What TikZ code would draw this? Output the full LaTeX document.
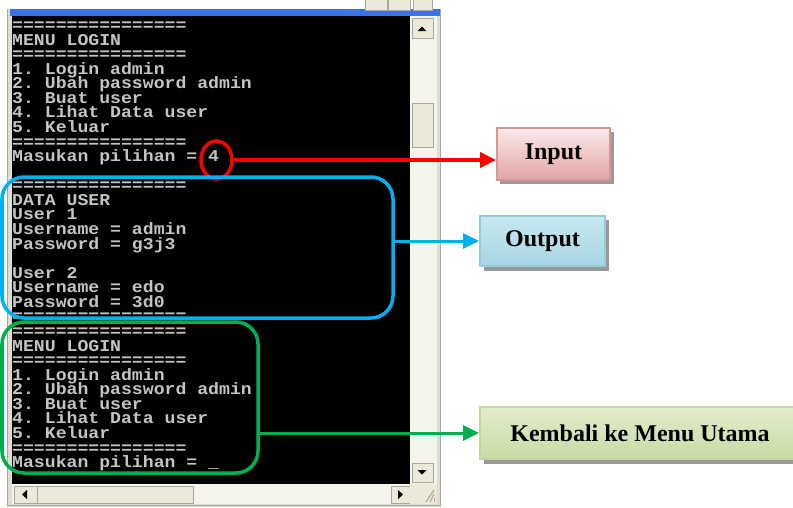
\documentclass[tikz,border=0pt]{standalone}
\usepackage{fontspec}
\setmainfont{Liberation Serif}
\newfontfamily\confont[FakeStretch=1.1]{Liberation Mono}
\usetikzlibrary{shapes.geometric,arrows.meta}
\definecolor{congrey}{HTML}{C4C4C4}
\definecolor{xpbeige}{HTML}{ECE9D8}
\definecolor{xptrack}{HTML}{F4F3EC}
\definecolor{xpedge}{HTML}{A9A79C}
\definecolor{xpblue}{HTML}{3A73E8}
\definecolor{framegrey}{HTML}{DEDCD3}
\definecolor{ringred}{HTML}{FF0000}
\definecolor{outblue}{HTML}{00B0F0}
\definecolor{backgreen}{HTML}{00B050}
\begin{document}
\begin{tikzpicture}[x=1pt,y=-1pt,
  conline/.style={anchor=base west, inner sep=0pt, text=congrey,
    text height=10pt, text depth=3pt,
    font=\confont\bfseries\fontsize{16.5}{16}\selectfont},
  xpbtn/.style={fill=xpbeige, draw=xpedge, line width=0.8pt},
  hilite/.style={line width=3.5pt, rounded corners=22pt},
  tagbox/.style={rectangle, inner sep=0pt, line width=1.8pt,
    font=\bfseries\fontsize{24}{26}\selectfont, text=black},
  tagshadow/.style={fill=black!40},
  pointer/.style={line width=3pt, -{Triangle[length=16pt,width=15pt]}}]
\clip (0,0) rectangle (793,507);
\fill[white] (0,0) rectangle (793,507);

% console window frame and title strip
\fill[framegrey] (7,9) rectangle (441,507);
\draw[xpedge, line width=1pt] (7.5,9) -- (7.5,505.5) -- (440.5,505.5) -- (440.5,9);
\fill[xpblue] (10,9) rectangle (440,15.5);
\foreach \a/\b in {365/387, 388/410, 413/432}
  \draw[xpbtn] (\a,-3) rectangle (\b,10);

% console area
\fill[black] (12,16) rectangle (410,484);

% vertical scroll bar
\fill[xptrack] (410,16) rectangle (437,484);
\draw[xpbtn] (412,18) rectangle (433,38);
\fill[black] (417.5,31) -- (426.5,31) -- (422,26.5) -- cycle;
\draw[xpbtn] (412,103) rectangle (433,147);
\draw[xpbtn] (412,463) rectangle (433,482);
\fill[black] (417.5,470) -- (426.5,470) -- (422,474.5) -- cycle;

% horizontal scroll bar and size grip
\fill[xptrack] (12,484) rectangle (410,504);
\draw[xpbtn] (14,486) rectangle (37,503);
\fill[black] (22,494.5) -- (27,490) -- (27,499) -- cycle;
\draw[xpbtn] (37,486) rectangle (193,503);
\draw[xpbtn] (391,486) rectangle (410,503);
\fill[black] (403,494.5) -- (398,490) -- (398,499) -- cycle;
\fill[xpbeige] (410,484) rectangle (437,504);
\foreach \d in {0,4,8}
  \draw[xpedge, line width=1pt] (434-\d,502) -- (434,502-\d-4);

% console text
\begin{scope}[every node/.append style={execute at begin node=\frenchspacing}]
\foreach \t [count=\i from 0] in {
  ================, MENU LOGIN, ================,
  1. Login admin, 2. Ubah password admin, 3. Buat user,
  4. Lihat Data user, 5. Keluar, ================,
  Masukan pilihan = 4, {},
  ================, DATA USER, User 1, Username = admin,
  Password = g3j3, {}, User 2, Username = edo, Password = 3d0,
  ================, ================, MENU LOGIN, ================,
  1. Login admin, 2. Ubah password admin, 3. Buat user,
  4. Lihat Data user, 5. Keluar, ================,
  Masukan pilihan = \_}
  \node[conline] (ln\i) at (12, 30.5+14.57*\i) {\t};
\end{scope}

% highlight marks on the console
\node[ellipse, draw=ringred, line width=3.5pt, minimum width=31pt,
  minimum height=38pt, inner sep=0pt] (ring) at (216.5,160) {};
\draw[hilite, draw=outblue] (2,177) rectangle (393,318);
\node[inner sep=0pt, minimum width=391pt, minimum height=141pt] (outarea) at (197.5,247.5) {};
\draw[hilite, draw=backgreen] (2,322) rectangle (258,473);
\node[inner sep=0pt, minimum width=256pt, minimum height=151pt] (menuarea) at (130,397.5) {};

% labels
\fill[tagshadow] (500,132) rectangle (614,184);
\node[tagbox, draw={rgb,255:red,217;green,149;blue,148},
  top color={rgb,255:red,250;green,234;blue,234},
  bottom color={rgb,255:red,226;green,164;blue,164},
  minimum width=113pt, minimum height=52pt] (input) at (553.5,154) {Input};

\fill[tagshadow] (484,220) rectangle (609,271);
\node[tagbox, draw={rgb,255:red,146;green,205;blue,220},
  top color={rgb,255:red,200;green,232;blue,240},
  middle color={rgb,255:red,226;green,243;blue,247},
  bottom color={rgb,255:red,166;green,213;blue,226},
  minimum width=125pt, minimum height=50pt] (output) at (542.5,241) {Output};

\fill[tagshadow] (484,411) rectangle (804,464);
\node[tagbox, draw={rgb,255:red,195;green,214;blue,155},
  top color={rgb,255:red,226;green,236;blue,206},
  middle color={rgb,255:red,238;green,244;blue,226},
  bottom color={rgb,255:red,200;green,220;blue,163},
  minimum width=320pt, minimum height=52pt] (back) at (640,433) {Kembali ke Menu Utama};

% connectors
\draw[pointer, draw=ringred, line width=3.5pt] (ring.east) -- (ring.east -| input.west);
\draw[pointer, draw=outblue] (output.west -| outarea.east) -- (output.west);
\draw[pointer, draw=backgreen] (back.west -| menuarea.east) -- (back.west);
\end{tikzpicture}
\end{document}
